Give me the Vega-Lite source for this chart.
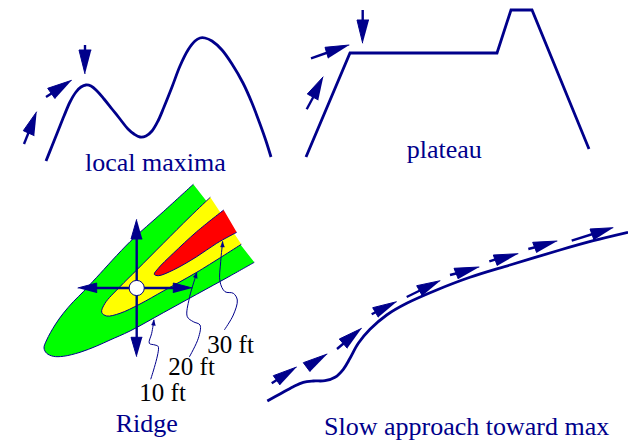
{"$schema":"https://vega.github.io/schema/vega-lite/v6.json","width":628,"height":441,"autosize":"none","padding":0,"background":"white","view":{"stroke":null},
"datasets":{
"green":[{"i":1,"x":254.3,"y":262.3},{"i":2,"x":230,"y":276},{"i":3,"x":196.7,"y":294.3},{"i":4,"x":163.3,"y":312.7},{"i":5,"x":130,"y":331},{"i":6,"x":110,"y":340},{"i":7,"x":96.7,"y":346},{"i":8,"x":80,"y":352.3},{"i":9,"x":63.3,"y":356.3},{"i":10,"x":53.3,"y":356.3},{"i":11,"x":46.7,"y":353.3},{"i":12,"x":44,"y":348},{"i":13,"x":46.7,"y":340},{"i":14,"x":55,"y":325},{"i":15,"x":63.3,"y":313.3},{"i":16,"x":73.3,"y":301.7},{"i":17,"x":83.3,"y":291.7},{"i":18,"x":96.7,"y":277.3},{"i":19,"x":130,"y":241.7},{"i":20,"x":163.3,"y":211.7},{"i":21,"x":193.3,"y":184.3}],
"yellow":[{"i":1,"x":241.3,"y":244.3},{"i":2,"x":196.7,"y":272.3},{"i":3,"x":163.3,"y":291},{"i":4,"x":140,"y":304},{"i":5,"x":120,"y":313.3},{"i":6,"x":106.7,"y":316},{"i":7,"x":101.7,"y":312.3},{"i":8,"x":105,"y":303.3},{"i":9,"x":120,"y":286.7},{"i":10,"x":136.7,"y":270},{"i":11,"x":163.3,"y":243.3},{"i":12,"x":190,"y":216.7},{"i":13,"x":210.3,"y":197.3}],
"red":[{"i":1,"x":236.7,"y":232.3},{"i":2,"x":216.7,"y":243.3},{"i":3,"x":196.7,"y":256.7},{"i":4,"x":173.3,"y":270},{"i":5,"x":158.3,"y":275.7},{"i":6,"x":154.3,"y":274.3},{"i":7,"x":158.3,"y":268.3},{"i":8,"x":173.3,"y":253.3},{"i":9,"x":196.7,"y":231.7},{"i":10,"x":223.7,"y":210}],
"curves":[
{"id":"m","i":1,"x":46,"y":161},{"id":"m","i":2,"x":52,"y":146},{"id":"m","i":3,"x":58,"y":131},{"id":"m","i":4,"x":64,"y":116},{"id":"m","i":5,"x":70,"y":102},{"id":"m","i":6,"x":76,"y":92},{"id":"m","i":7,"x":81,"y":87},{"id":"m","i":8,"x":86,"y":85},{"id":"m","i":9,"x":91,"y":86},{"id":"m","i":10,"x":97,"y":91},{"id":"m","i":11,"x":104,"y":99},{"id":"m","i":12,"x":112,"y":109},{"id":"m","i":13,"x":120,"y":119},{"id":"m","i":14,"x":128,"y":129},{"id":"m","i":15,"x":134,"y":134},{"id":"m","i":16,"x":140,"y":137},{"id":"m","i":17,"x":146,"y":136},{"id":"m","i":18,"x":152,"y":131},{"id":"m","i":19,"x":158,"y":121},{"id":"m","i":20,"x":164,"y":107},{"id":"m","i":21,"x":172,"y":87},{"id":"m","i":22,"x":180,"y":66},{"id":"m","i":23,"x":188,"y":50},{"id":"m","i":24,"x":195,"y":41},{"id":"m","i":25,"x":200,"y":38},{"id":"m","i":26,"x":205,"y":38},{"id":"m","i":27,"x":212,"y":41},{"id":"m","i":28,"x":222,"y":50},{"id":"m","i":29,"x":232,"y":64},{"id":"m","i":30,"x":243,"y":83},{"id":"m","i":31,"x":252,"y":103},{"id":"m","i":32,"x":260,"y":124},{"id":"m","i":33,"x":266,"y":141},{"id":"m","i":34,"x":271,"y":157},
{"id":"s","i":1,"x":267.3,"y":401},{"id":"s","i":2,"x":280,"y":394},{"id":"s","i":3,"x":293.3,"y":386.7},{"id":"s","i":4,"x":303.3,"y":382.3},{"id":"s","i":5,"x":313.3,"y":381},{"id":"s","i":6,"x":325,"y":380.7},{"id":"s","i":7,"x":335,"y":377.3},{"id":"s","i":8,"x":343.3,"y":369.3},{"id":"s","i":9,"x":350,"y":358.3},{"id":"s","i":10,"x":358.3,"y":343.3},{"id":"s","i":11,"x":370,"y":329.3},{"id":"s","i":12,"x":386.7,"y":315},{"id":"s","i":13,"x":406.7,"y":303.3},{"id":"s","i":14,"x":436.7,"y":290},{"id":"s","i":15,"x":470,"y":277.3},{"id":"s","i":16,"x":510,"y":265},{"id":"s","i":17,"x":560,"y":250},{"id":"s","i":18,"x":593.3,"y":240.7},{"id":"s","i":19,"x":628,"y":232.3}],
"plateau":[{"i":1,"x":306,"y":157},{"i":2,"x":350,"y":53},{"i":3,"x":497,"y":53},{"i":4,"x":511,"y":10},{"i":5,"x":532,"y":10},{"i":6,"x":589,"y":149}],
"squiggles":[
{"id":"30","i":1,"x":224.3,"y":330},{"id":"30","i":2,"x":233.3,"y":315},{"id":"30","i":3,"x":237.3,"y":300},{"id":"30","i":4,"x":233.3,"y":293.3},{"id":"30","i":5,"x":225,"y":291.7},{"id":"30","i":6,"x":220,"y":281.7},{"id":"30","i":7,"x":220.7,"y":261.7},{"id":"30","i":8,"x":222.7,"y":241.7},
{"id":"20","i":1,"x":189.3,"y":357},{"id":"20","i":2,"x":198.3,"y":338.3},{"id":"20","i":3,"x":200,"y":325},{"id":"20","i":4,"x":193.3,"y":321.7},{"id":"20","i":5,"x":187.3,"y":316.7},{"id":"20","i":6,"x":189.3,"y":298.3},{"id":"20","i":7,"x":196.7,"y":273.3},
{"id":"10","i":1,"x":150.7,"y":379.3},{"id":"10","i":2,"x":158.3,"y":346.7},{"id":"10","i":3,"x":155,"y":345},{"id":"10","i":4,"x":149.3,"y":343.3},{"id":"10","i":5,"x":151.7,"y":333.3},{"id":"10","i":6,"x":154,"y":320}],
"smallHeads":[
{"id":"30","i":1,"x":222.7,"y":241},{"id":"30","i":2,"x":220.6,"y":247},{"id":"30","i":3,"x":224.6,"y":247},
{"id":"20","i":1,"x":197,"y":272},{"id":"20","i":2,"x":193.4,"y":277},{"id":"20","i":3,"x":197.4,"y":278.4},
{"id":"10","i":1,"x":154,"y":319.5},{"id":"10","i":2,"x":151.6,"y":325},{"id":"10","i":3,"x":155.6,"y":325.6}],
"shafts":[
{"id":"a1","i":1,"x":24,"y":144},{"id":"a1","i":2,"x":32,"y":124},
{"id":"a2","i":1,"x":46,"y":97},{"id":"a2","i":2,"x":60,"y":88},
{"id":"a3","i":1,"x":85,"y":45},{"id":"a3","i":2,"x":85,"y":60},
{"id":"p1","i":1,"x":306.7,"y":109.3},{"id":"p1","i":2,"x":316,"y":92},
{"id":"p2","i":1,"x":311,"y":58.3},{"id":"p2","i":2,"x":332,"y":51},
{"id":"p3","i":1,"x":362.7,"y":10},{"id":"p3","i":2,"x":362.7,"y":30},
{"id":"v","i":1,"x":136.7,"y":235},{"id":"v","i":2,"x":136.7,"y":342},
{"id":"h","i":1,"x":92,"y":288},{"id":"h","i":2,"x":178,"y":288},
{"id":"s1","i":1,"x":271.7,"y":383.3},{"id":"s1","i":2,"x":283,"y":376},
{"id":"s3","i":1,"x":337,"y":349},{"id":"s3","i":2,"x":350,"y":338},
{"id":"s4","i":1,"x":371.7,"y":314.3},{"id":"s4","i":2,"x":382,"y":309},
{"id":"s5","i":1,"x":406.7,"y":297},{"id":"s5","i":2,"x":425,"y":288},
{"id":"s6","i":1,"x":450,"y":275},{"id":"s6","i":2,"x":462,"y":272},
{"id":"s7","i":1,"x":489.3,"y":261.3},{"id":"s7","i":2,"x":500,"y":258},
{"id":"s8","i":1,"x":528.3,"y":249},{"id":"s8","i":2,"x":540,"y":246},
{"id":"s9","i":1,"x":571.7,"y":240.7},{"id":"s9","i":2,"x":596,"y":233}],
"heads":[
{"id":"a1","i":1,"x":36.7,"y":111.7},{"id":"a1","i":2,"x":23.3,"y":130.7},{"id":"a1","i":3,"x":34.3,"y":135.7},
{"id":"a2","i":1,"x":71.7,"y":80.3},{"id":"a2","i":2,"x":47.7,"y":88.3},{"id":"a2","i":3,"x":55,"y":98.7},
{"id":"a3","i":1,"x":85,"y":74},{"id":"a3","i":2,"x":79,"y":50},{"id":"a3","i":3,"x":91.3,"y":50},
{"id":"p1","i":1,"x":323.3,"y":76.7},{"id":"p1","i":2,"x":307.3,"y":94},{"id":"p1","i":3,"x":318.3,"y":100},
{"id":"p2","i":1,"x":349.3,"y":45},{"id":"p2","i":2,"x":325,"y":47.3},{"id":"p2","i":3,"x":328.3,"y":58.3},
{"id":"p3","i":1,"x":362.7,"y":43.3},{"id":"p3","i":2,"x":357,"y":20},{"id":"p3","i":3,"x":369,"y":20},
{"id":"vt","i":1,"x":136.7,"y":219.3},{"id":"vt","i":2,"x":131,"y":239},{"id":"vt","i":3,"x":142.3,"y":239},
{"id":"vb","i":1,"x":136.7,"y":356.7},{"id":"vb","i":2,"x":131,"y":337.3},{"id":"vb","i":3,"x":142.3,"y":337.3},
{"id":"hl","i":1,"x":77.7,"y":288},{"id":"hl","i":2,"x":96.7,"y":283},{"id":"hl","i":3,"x":96.7,"y":293},
{"id":"hr","i":1,"x":192.3,"y":288},{"id":"hr","i":2,"x":173.3,"y":283},{"id":"hr","i":3,"x":173.3,"y":293},
{"id":"s1","i":1,"x":296.7,"y":367},{"id":"s1","i":2,"x":273.3,"y":375.7},{"id":"s1","i":3,"x":280,"y":385},
{"id":"s2","i":1,"x":327.3,"y":354},{"id":"s2","i":2,"x":303.3,"y":362.7},{"id":"s2","i":3,"x":310,"y":371.7},
{"id":"s3","i":1,"x":361.7,"y":328.3},{"id":"s3","i":2,"x":339.3,"y":339},{"id":"s3","i":3,"x":347.3,"y":348.3},
{"id":"s4","i":1,"x":396.7,"y":301.7},{"id":"s4","i":2,"x":372.7,"y":307.7},{"id":"s4","i":3,"x":378.3,"y":317.3},
{"id":"s5","i":1,"x":440.3,"y":280.7},{"id":"s5","i":2,"x":416.7,"y":285.7},{"id":"s5","i":3,"x":422.3,"y":295.7},
{"id":"s6","i":1,"x":479.3,"y":267},{"id":"s6","i":2,"x":454,"y":268.3},{"id":"s6","i":3,"x":458.3,"y":279},
{"id":"s7","i":1,"x":518.3,"y":253.7},{"id":"s7","i":2,"x":493.3,"y":255},{"id":"s7","i":3,"x":497.3,"y":265.7},
{"id":"s8","i":1,"x":557.3,"y":241},{"id":"s8","i":2,"x":532.7,"y":242.3},{"id":"s8","i":3,"x":536.7,"y":252.7},
{"id":"s9","i":1,"x":613.3,"y":227.7},{"id":"s9","i":2,"x":590,"y":229},{"id":"s9","i":3,"x":594,"y":240}]
},
"encoding":{"x":{"field":"x","type":"quantitative","axis":null,"scale":{"domain":[0,628],"nice":false,"zero":false}},"y":{"field":"y","type":"quantitative","axis":null,"scale":{"domain":[0,441],"reverse":true,"nice":false,"zero":false}}},
"layer":[
{"data":{"name":"green"},"mark":{"type":"line","fill":"#00ff00","stroke":"#00008b","strokeWidth":1,"interpolate":"catmull-rom"},"encoding":{"order":{"field":"i"}}},
{"data":{"name":"yellow"},"mark":{"type":"line","fill":"#ffff00","stroke":"#00008b","strokeWidth":1,"interpolate":"catmull-rom"},"encoding":{"order":{"field":"i"}}},
{"data":{"name":"red"},"mark":{"type":"line","fill":"#ff0000","stroke":"#00008b","strokeWidth":1,"interpolate":"catmull-rom"},"encoding":{"order":{"field":"i"}}},
{"data":{"name":"curves"},"mark":{"type":"line","stroke":"#00008b","strokeWidth":2.8,"interpolate":"catmull-rom"},"encoding":{"detail":{"field":"id"},"order":{"field":"i"}}},
{"data":{"name":"plateau"},"mark":{"type":"line","stroke":"#00008b","strokeWidth":2.8},"encoding":{"order":{"field":"i"}}},
{"data":{"name":"squiggles"},"mark":{"type":"line","stroke":"#00008b","strokeWidth":1,"interpolate":"catmull-rom"},"encoding":{"detail":{"field":"id"},"order":{"field":"i"}}},
{"data":{"name":"smallHeads"},"mark":{"type":"line","fill":"#00008b","stroke":"#00008b","strokeWidth":0.5},"encoding":{"detail":{"field":"id"},"order":{"field":"i"}}},
{"data":{"name":"shafts"},"mark":{"type":"line","stroke":"#00008b","strokeWidth":2.4},"encoding":{"detail":{"field":"id"},"order":{"field":"i"}}},
{"data":{"name":"heads"},"mark":{"type":"line","fill":"#00008b","stroke":"#00008b","strokeWidth":1},"encoding":{"detail":{"field":"id"},"order":{"field":"i"}}},
{"data":{"values":[{"x":136.7,"y":288}]},"mark":{"type":"point","shape":"circle","filled":true,"fill":"white","stroke":"#00008b","strokeWidth":1,"size":230,"opacity":1}},
{"data":{"values":[{"t":"local maxima","x":85,"y":171},{"t":"Ridge","x":115.7,"y":431.7},{"t":"Slow approach toward max","x":324,"y":435.3},{"t":"plateau","x":406.7,"y":158}]},"mark":{"type":"text","font":"Liberation Serif","fontSize":26,"align":"left","baseline":"alphabetic","color":"#00008b"},"encoding":{"text":{"field":"t"}}},
{"data":{"values":[{"t":"10 ft","x":139.3,"y":401},{"t":"20 ft","x":168.3,"y":375},{"t":"30 ft","x":207.3,"y":352.7}]},"mark":{"type":"text","font":"Liberation Serif","fontSize":25,"align":"left","baseline":"alphabetic","color":"black"},"encoding":{"text":{"field":"t"}}}
]}
